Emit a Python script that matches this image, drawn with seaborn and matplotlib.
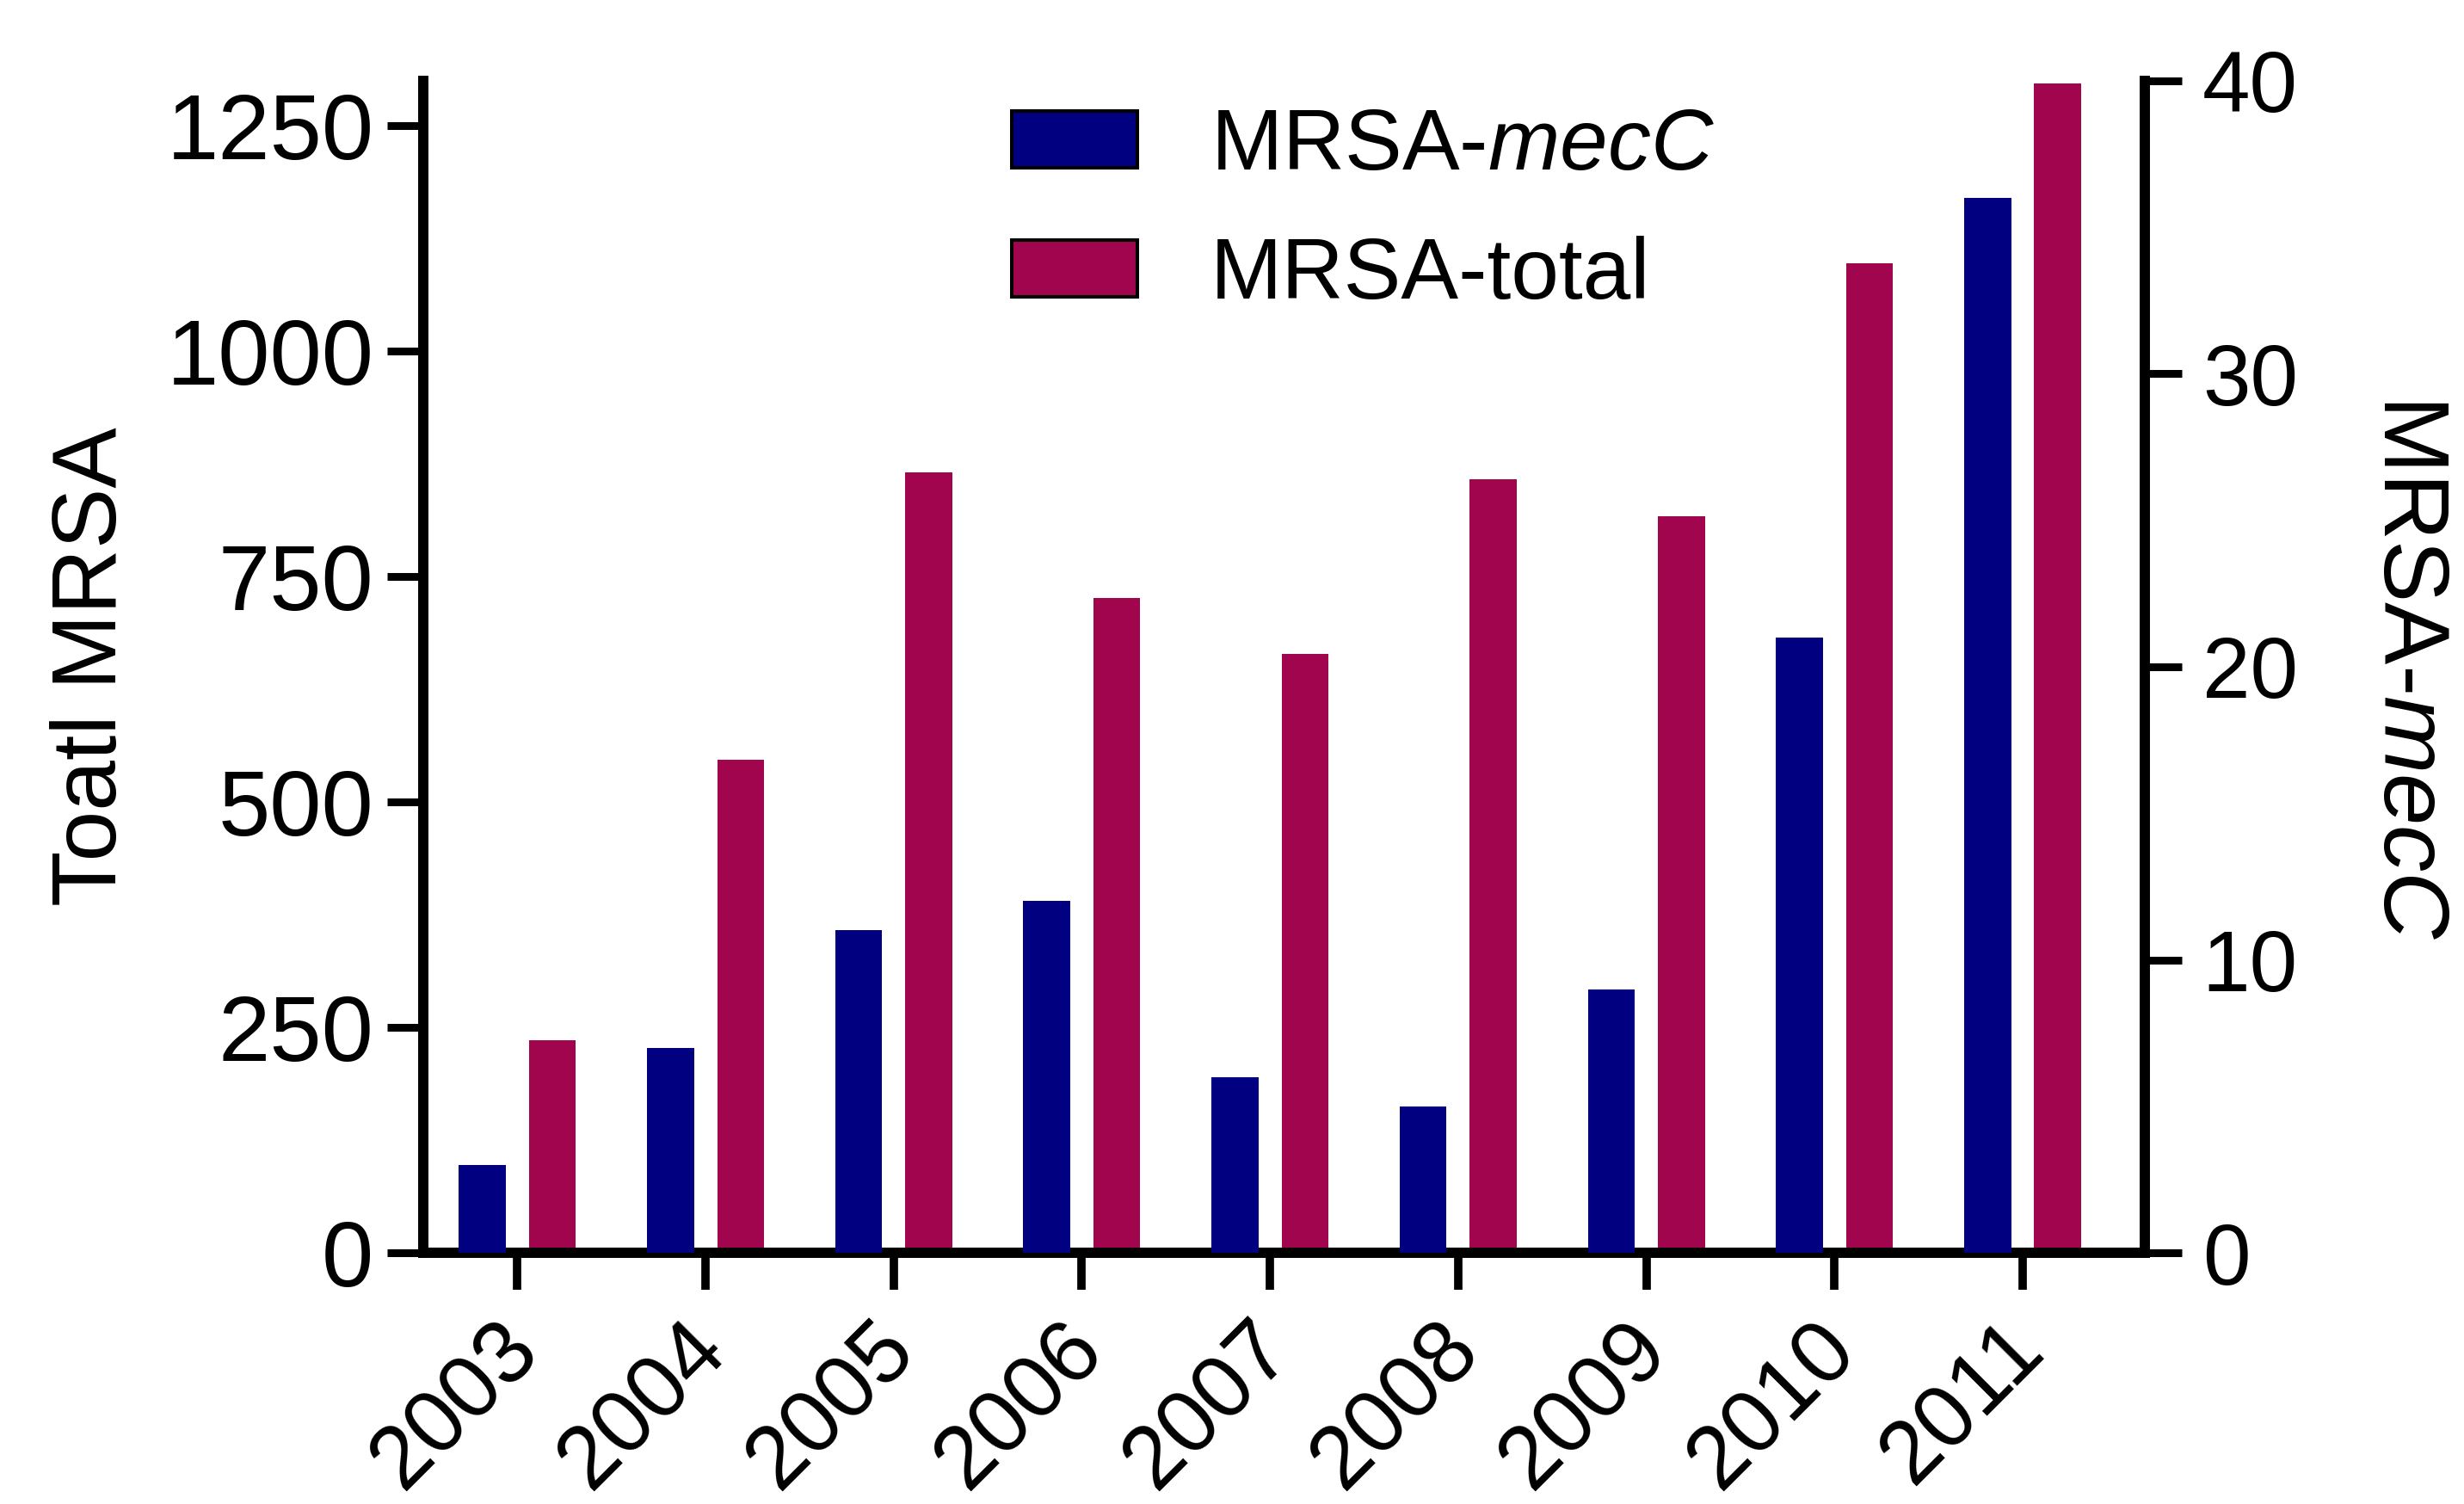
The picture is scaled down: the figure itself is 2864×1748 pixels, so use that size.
import numpy as np
import pandas as pd
import matplotlib
matplotlib.use('Agg')
import matplotlib.pyplot as plt
from matplotlib.patches import Patch
from matplotlib.transforms import ScaledTranslation
import seaborn as sns

years = ['2003', '2004', '2005', '2006', '2007', '2008', '2009', '2010', '2011']
mecc = [3, 7, 11, 12, 6, 5, 9, 21, 36]
total = [236, 547, 866, 726, 664, 858, 817, 1098, 1297]

series = ['MRSA-mecC', 'MRSA-total']
labels = ['MRSA-$\\mathit{mecC}$', 'MRSA-total']
colors = ['#000080', '#A0054E']

# one long table, each axis only gets its own series (the other is NaN)
df = pd.DataFrame({
    'year': years * 2,
    'series': [series[0]] * len(years) + [series[1]] * len(years),
    'mecc': mecc + [np.nan] * len(years),
    'total': [np.nan] * len(years) + total,
})

sns.set_style('ticks')
plt.rcParams['font.family'] = ['Liberation Sans', 'DejaVu Sans']
plt.rcParams['mathtext.fontset'] = 'custom'
plt.rcParams['mathtext.rm'] = 'Liberation Sans'
plt.rcParams['mathtext.it'] = 'Liberation Sans:italic'
plt.rcParams['axes.edgecolor'] = 'black'
plt.rcParams['axes.labelcolor'] = 'black'
plt.rcParams['text.color'] = 'black'

fig = plt.figure(figsize=(28.64, 17.48), dpi=100)
ax = fig.add_axes([0.1718, 0.167, 0.8705 - 0.1718, 0.9463 - 0.167])
ax2 = ax.twinx()

bar_kw = dict(x='year', hue='series', hue_order=series, palette=colors,
              dodge=True, width=0.745, gap=0.33, errorbar=None,
              legend=False, saturation=1, linewidth=0)
sns.barplot(data=df, y='total', ax=ax, **bar_kw)
sns.barplot(data=df, y='mecc', ax=ax2, **bar_kw)

ax.set_xlim(-0.5, 8.65)
ax.set_ylim(0, 1300)
ax2.set_ylim(0, 40)
ax.set_yticks([0, 250, 500, 750, 1000, 1250])
ax2.set_yticks([0, 10, 20, 30, 40])

lw = 8.6
for s in ['top', 'right']:
    ax.spines[s].set_visible(False)
for s in ['top', 'left', 'bottom']:
    ax2.spines[s].set_visible(False)
ax.spines['left'].set_linewidth(lw)
ax.spines['bottom'].set_linewidth(lw)
ax2.spines['right'].set_linewidth(lw)

ax.tick_params(axis='y', length=30, width=6.5, labelsize=78, pad=11.5, colors='black')
ax.tick_params(axis='x', length=31, width=7, labelsize=74, pad=14, colors='black')
ax2.tick_params(axis='y', length=31, width=6.5, labelsize=72, pad=17, colors='black')
ax2.tick_params(axis='x', bottom=False, labelbottom=False)

# rotated year labels, nudged left like the original
shift = ScaledTranslation(-0.25, 0.0, fig.dpi_scale_trans)
for t in ax.get_xticklabels():
    t.set_rotation(45)
    t.set_ha('right')
    t.set_rotation_mode('anchor')
    t.set_transform(t.get_transform() + shift)

ax.set_xlabel('')
ax.set_ylabel('Toatl MRSA', fontsize=76)
ax.yaxis.set_label_coords(-0.1674, 0.5)
ax2.set_ylabel('MRSA-$\\mathit{mecC}$', fontsize=78, rotation=270, va='bottom')
ax2.yaxis.set_label_coords(1.128, 0.5)

handles = [Patch(facecolor=c, edgecolor='black', linewidth=2.9, label=l)
           for c, l in zip(colors, labels)]
ax.legend(handles=handles, loc='upper left', bbox_to_anchor=(0.4106, 0.929),
          bbox_transform=fig.transFigure, frameon=False, fontsize=72,
          handlelength=1.46, handleheight=0.63, handletextpad=0.85,
          labelspacing=0.56, borderpad=0, borderaxespad=0)

fig.savefig('out.png', dpi=100)
